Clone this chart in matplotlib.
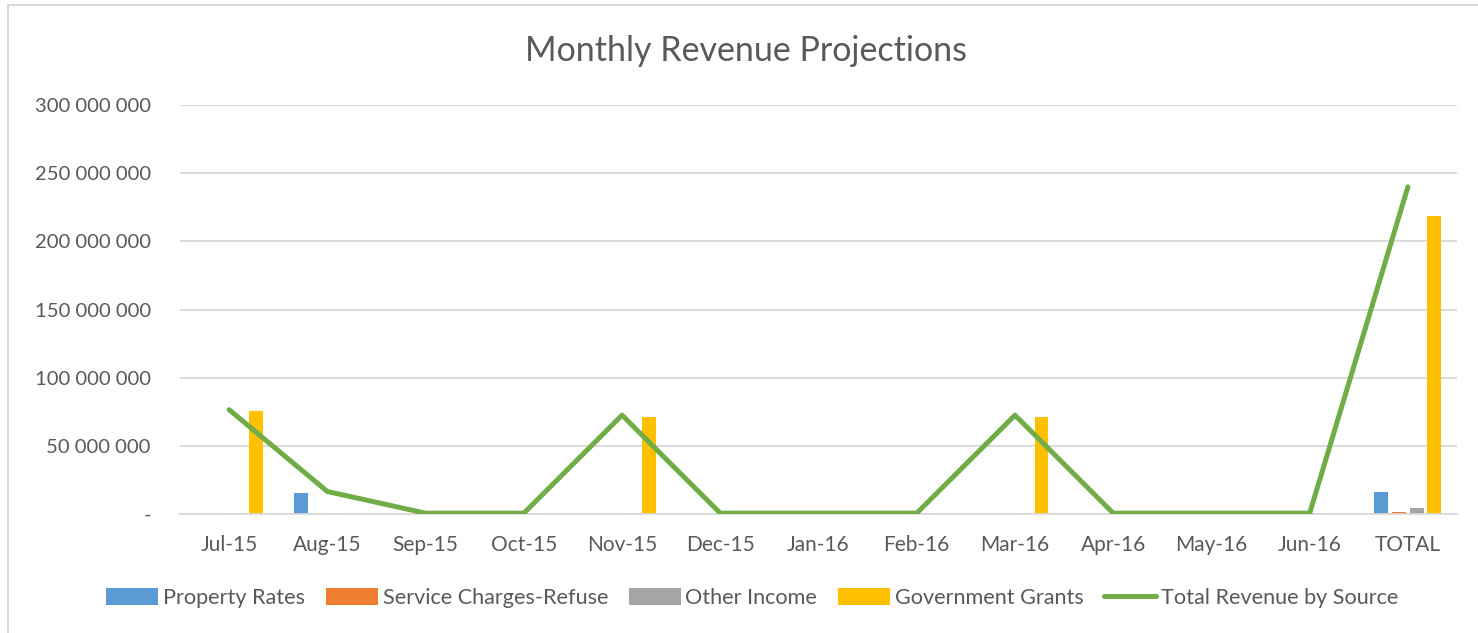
import matplotlib
matplotlib.use("Agg")
import numpy as np
from matplotlib import pyplot as plt, ticker
from matplotlib.lines import Line2D

months = ["Jul-15", "Aug-15", "Sep-15", "Oct-15", "Nov-15", "Dec-15",
          "Jan-16", "Feb-16", "Mar-16", "Apr-16", "May-16", "Jun-16", "TOTAL"]

# values in Rand
property_rates = [0.3e6, 15.5e6, 0, 0, 0.1e6, 0, 0, 0, 0.1e6, 0, 0, 0, 16.0e6]
service_refuse = [0.1e6, 0.1e6, 0.1e6, 0.1e6, 0.1e6, 0.1e6, 0.1e6, 0.1e6, 0.1e6, 0.1e6, 0.1e6, 0.1e6, 1.5e6]
other_income = [0.4e6, 0.4e6, 0.4e6, 0.4e6, 0.4e6, 0.4e6, 0.4e6, 0.4e6, 0.4e6, 0.4e6, 0.4e6, 0.4e6, 4.4e6]
gov_grants = [75.5e6, 0, 0, 0, 71.5e6, 0, 0, 0, 71.5e6, 0, 0, 0, 218.5e6]
total_revenue = [76.5e6, 16.5e6, 0.6e6, 0.6e6, 72.5e6, 0.6e6, 0.6e6, 0.6e6, 72.5e6, 0.6e6, 0.6e6, 0.6e6, 240.0e6]

series = [
    ("Property Rates", property_rates, "#5B9BD5"),
    ("Service Charges-Refuse", service_refuse, "#ED7D31"),
    ("Other Income", other_income, "#A5A5A5"),
    ("Government Grants", gov_grants, "#FFC000"),
]

txt = "#595959"
plt.rcParams["font.family"] = ["Lato", "DejaVu Sans"]

fig = plt.figure(figsize=(14.78, 6.33), dpi=100)
ax = fig.add_axes([0.1218, 0.188, 0.8640, 0.646])

x = np.arange(len(months))
step = 0.18
width = 0.142
for i, (name, vals, col) in enumerate(series):
    ax.bar(x + (i - 1.5) * step, vals, width=width, color=col, label=name, zorder=2)

ax.plot(x, total_revenue, color="#70AD47", lw=3.6, solid_capstyle="round",
        solid_joinstyle="round", zorder=3, label="Total Revenue by Source")

ax.set_xlim(-0.5, len(months) - 0.5)
ax.set_ylim(0, 300e6)
ax.yaxis.set_major_locator(ticker.MultipleLocator(50e6))


def fmt(v, pos):
    if v == 0:
        return "-"
    return "{:,.0f}".format(v).replace(",", " ")


ax.yaxis.set_major_formatter(ticker.FuncFormatter(fmt))
ax.set_xticks(x)
ax.set_xticklabels(months)
ax.tick_params(axis="both", length=0, colors=txt)
ax.tick_params(axis="y", pad=21, labelsize=14.6)
ax.tick_params(axis="x", pad=15, labelsize=15)
ax.grid(axis="y", color="#D9D9D9", lw=1.3, zorder=0)
for s in ["top", "right", "left"]:
    ax.spines[s].set_visible(False)
ax.spines["bottom"].set_color("#D9D9D9")
ax.spines["bottom"].set_linewidth(1.3)

fig.text(0.505, 0.92, "Monthly Revenue Projections", ha="center", va="center",
         fontsize=24.5, color=txt)

handles, labels = ax.get_legend_handles_labels()
order = [1, 2, 3, 4, 0]
handles = [handles[i] for i in order]
labels = [labels[i] for i in order]
handles[-1] = Line2D([], [], color="#70AD47", lw=3.6, solid_capstyle="round")
leg = fig.legend(handles, labels, loc="center", bbox_to_anchor=(0.509, 0.055), ncol=5,
                 frameon=False, fontsize=15.6, handlelength=2.4, handleheight=0.78,
                 handletextpad=0.22, columnspacing=0.95)
for t in leg.get_texts():
    t.set_color(txt)

# chart area border
fig.add_artist(Line2D([8 / 1478, 8 / 1478], [0, 1 - 5 / 633], color="#D9D9D9", lw=1.5))
fig.add_artist(Line2D([8 / 1478, 1], [1 - 5 / 633, 1 - 5 / 633], color="#D9D9D9", lw=1.5))

fig.savefig("out.png", dpi=100)
